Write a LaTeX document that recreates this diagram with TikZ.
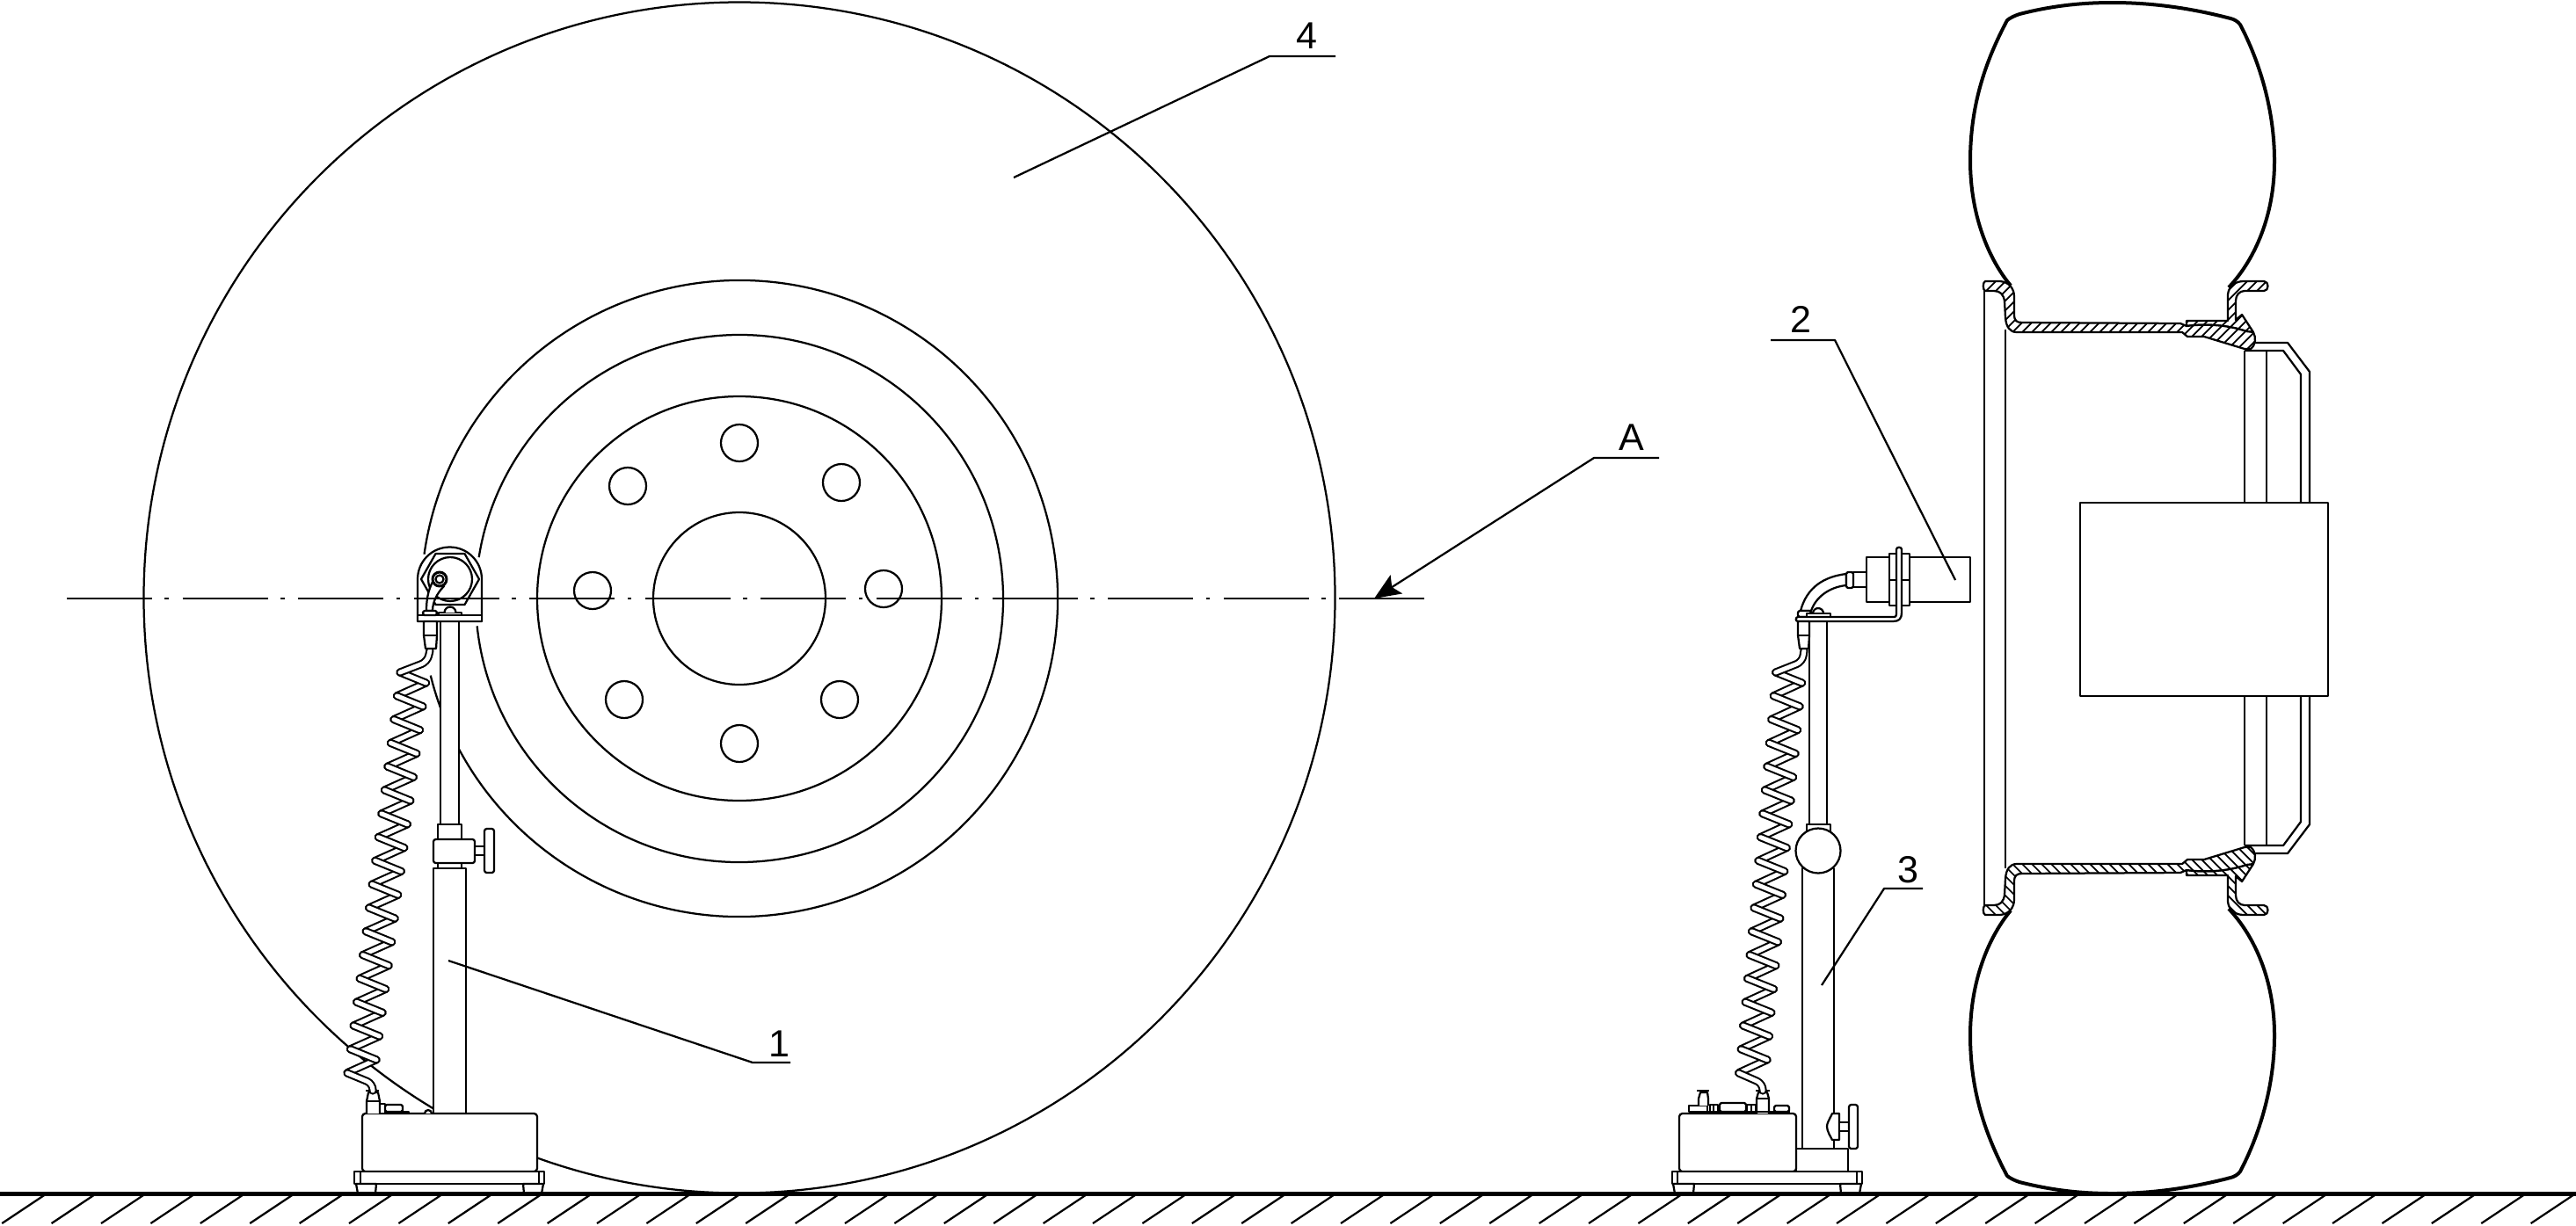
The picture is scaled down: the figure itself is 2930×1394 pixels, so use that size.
\documentclass[tikz,border=0pt]{standalone}
\usepackage{fontspec}
\setmainfont{Liberation Sans}
\usetikzlibrary{arrows.meta}

\tikzset{
	thin line/.style={draw, line width=.045cm, line join=round},
	part/.style={thin line, fill=white},
	tube/.style={line width=.042cm, double=white, double distance=.1cm, line cap=round, line join=round},
	tyre line/.style={draw, line width=.08cm, line join=round},
	lbl/.style={inner sep=0pt, font=\fontsize{24.5pt}{25pt}\selectfont},
}

% hatched section of the rim
\newcommand{\rimhatch}[1]{
	\fill[white] #1;
	\begin{scope}
		\clip #1;
		\foreach \h in {2190,2201,...,2570}
			\draw[draw, line width=.035cm] (\h,400) -- (\h+85,315);
	\end{scope}
	\draw[thin line] #1;
}

% coil of the cable: left end, right end, drift per turn
\newcommand{\coil}[3]{
	\foreach \i in {0,...,16}
		\draw[tube] ({#2+#3*\i},{777+26.8*\i}) -- ({#1+#3*(\i+1)},{765+26.8*(\i+1)});
	\foreach \i in {0,...,16}
		\draw[tube] ({#1+#3*\i},{765+26.8*\i}) -- ({#2+#3*\i},{777+26.8*\i});
}

% one half of tyre, rim and hub
\newcommand{\wheelhalf}{
	\draw[tyre line] (2287,325) .. controls (2262,295) and (2241,245) .. (2241,183) .. controls (2241,120) and (2258,70) .. (2283,23) .. controls (2287,20) and (2291,18) .. (2297,16) .. controls (2340,5) and (2375,3) .. (2403,3) .. controls (2450,3) and (2495,10) .. (2537,21) .. controls (2541,22) and (2545,24) .. (2548,28) .. controls (2570,70) and (2587,125) .. (2587,183) .. controls (2587,245) and (2565,295) .. (2535,327);
	\draw[thin line] (2565,390) -- (2602,390) -- (2627,423) -- (2627,600);
	\draw[thin line] (2553,399) -- (2597,399) -- (2617,426) -- (2617,600);
	\draw[thin line] (2553,399) -- (2553,600);
	\draw[thin line] (2578,399) -- (2578,600);
	\rimhatch{(2487,365) -- (2534,365) -- (2534,335) .. controls (2535,325) and (2543,320) .. (2552,320) -- (2575,320) .. controls (2581,320) and (2581,331) .. (2575,331) -- (2553,331) .. controls (2547,331) and (2543,336) .. (2543,342) -- (2543,364) -- (2550,358) -- (2563,378) -- (2555,377) .. controls (2535,370) and (2510,368) .. (2487,371) -- cycle}
	\rimhatch{(2258,320) -- (2275,320) .. controls (2285,321) and (2291,328) .. (2291,338) -- (2291,358) .. controls (2291,365) and (2294,367) .. (2300,367) -- (2480,368) -- (2487,371) .. controls (2510,368) and (2535,370) .. (2555,377) -- (2563,378) .. controls (2566,384) and (2566,392) .. (2560,397) -- (2553,397) -- (2507,383) -- (2488,383) -- (2482,378) -- (2294,378) .. controls (2286,378) and (2282,372) .. (2281,362) -- (2280,343) .. controls (2279,335) and (2275,331) .. (2268,331) -- (2258,331) .. controls (2255,330) and (2255,321) .. (2258,320) -- cycle}
}

\begin{document}
\begin{tikzpicture}[x=.02cm, y=-.02cm]
	\useasboundingbox (0,0) rectangle (2930,1394);

	% front view of the wheel
	\draw[thin line] (841,680) circle[radius=677.5];
	\draw[thin line] (841,681) ++(166:362) arc[start angle=166, end angle=-172, radius=362];
	\draw[thin line] (841,681) ++(174:300) arc[start angle=174, end angle=-171, radius=300];
	\draw[thin line] (841,681) circle[radius=230];
	\draw[thin line] (841,681) circle[radius=98];
	\foreach \hx/\hy in {841/504, 841/846, 674/672, 1005/670, 714/553, 957/549, 710/796, 955/796}
		\draw[thin line] (\hx,\hy) circle[radius=21];

	% left stand
	\draw[part] (501,707) rectangle (522,938);
	\draw[part] (493,988) rectangle (530,1267);
	\draw[part] (498,938) rectangle (525,955);
	\draw[part] (498,982) rectangle (525,988);
	\draw[part] (540,963) rectangle (551,973);
	\draw[part, rounded corners=1.5] (493,955) rectangle (540,982);
	\draw[part, rounded corners=1.5] (551,943) rectangle (562,993);
	\draw[part, rounded corners=2] (412,1267) rectangle (611,1333);
	\draw[part] (403,1333) rectangle (619,1347);
	\draw[thin line] (410,1333) -- (410,1347);
	\draw[thin line] (613,1333) -- (613,1347);
	\draw[part] (405,1347) -- (428,1347) -- (427,1358) -- (407,1358) -- cycle;
	\draw[part] (595,1347) -- (618,1347) -- (616,1358) -- (596,1358) -- cycle;
	\draw[part] (417,1267) -- (417,1253) -- (419,1243) -- (430,1243) -- (432,1253) -- (432,1267);
	\draw[thin line] (417,1253) -- (432,1253);
	\draw[part] (416,1241) -- (431,1241);
	\draw[part] (432,1256) rectangle (438,1267);
	\draw[part, rounded corners=1] (438,1257) rectangle (458,1265);
	\draw[part] (438,1265) rectangle (465,1267);
	\draw[part] (483,1267) arc[start angle=180, end angle=360, radius=4];

	% cable, left stand
	\coil{455}{484.5}{-3.53}
	\draw[tube, rounded corners=4] (489,740) -- (486,753) -- (455,765);
	\draw[tube, rounded corners=4] (395,1221) -- (424,1233) -- (424,1241);

	% sensor on the left stand
	\draw[part] (475,707) -- (475,659) arc[start angle=180, end angle=360, radius=36.5] -- (548,707) -- cycle;
	\draw[part] (475,700) rectangle (548,707);
	\draw[part] (479,659) -- (495.5,630) -- (528.5,630) -- (545,659) -- (528.5,688) -- (495.5,688) -- cycle;
	\draw[part] (512,659) circle[radius=25];
	\draw[part] (492,662) .. controls (487,672) and (485,682) .. (485,695) -- (492,695) .. controls (492,685) and (497,675) .. (505,667) -- cycle;
	\draw[part, line width=.06cm] (500,659) circle[radius=8];
	\draw[part] (500,659) circle[radius=4.5];
	\draw[part, rounded corners=1] (481,695) rectangle (497,700);
	\draw[part] (499,697) rectangle (525,700);
	\draw[part] (505.5,697) arc[start angle=180, end angle=360, radius=6.5];
	\draw[part] (482,707) -- (497,707) -- (497,723) -- (496,738) -- (484,738) -- (482,723) -- cycle;
	\draw[thin line] (482,723) -- (497,723);

	% side view of the wheel
	\draw[thin line] (2257,330) -- (2257,1032);
	\draw[thin line] (2281,375) -- (2281,988);
	\wheelhalf
	\begin{scope}[shift={(0,1361)}, yscale=-1]
		\wheelhalf
	\end{scope}
	\node (wheelbox) [part, rectangle, inner sep=0pt, minimum width=5.64cm, minimum height=4.4cm] at (2507,682) {};

	% right stand
	\draw[part] (2058,707) rectangle (2078,938);
	\draw[part] (2050,988) rectangle (2086,1307);
	\draw[part] (2055,938) rectangle (2082,947);
	\draw[part] (2068,968) circle[radius=25.5];
	\draw[part] (2092,1267) -- (2084,1267) .. controls (2080,1275) and (2078,1278) .. (2078,1282) .. controls (2078,1287) and (2082,1293) .. (2084,1297) -- (2092,1297) -- cycle;
	\draw[part] (2092,1277) rectangle (2103,1287);
	\draw[part, rounded corners=1.5] (2103,1257) rectangle (2113,1307);
	\draw[part] (2043,1307) rectangle (2102,1333);
	\draw[part, rounded corners=2] (1910,1267) rectangle (2043,1333);
	\draw[part] (1902,1333) rectangle (2118,1347);
	\draw[thin line] (1908,1333) -- (1908,1347);
	\draw[thin line] (2112,1333) -- (2112,1347);
	\draw[part] (1903,1347) -- (1927,1347) -- (1926,1358) -- (1905,1358) -- cycle;
	\draw[part] (2093,1347) -- (2117,1347) -- (2115,1358) -- (2094,1358) -- cycle;
	\draw[part] (1921,1258) rectangle (1942,1265);
	\draw[part] (1932,1258) -- (1932,1250) -- (1934,1243) -- (1942,1243) -- (1943,1250) -- (1943,1258);
	\draw[part] (1930,1241) -- (1944,1241);
	\draw[part] (1945,1257) rectangle (1954,1265);
	\draw[thin line] (1949,1257) -- (1949,1265);
	\draw[part, rounded corners=1] (1956,1255) rectangle (1986,1265);
	\draw[part] (1987,1257) rectangle (1997,1265);
	\draw[thin line] (1992,1257) -- (1992,1265);
	\draw[part] (1998,1267) -- (1998,1250) -- (2000,1243) -- (2010,1243) -- (2012,1250) -- (2012,1267);
	\draw[thin line] (1998,1250) -- (2012,1250);
	\draw[part] (1997,1241) -- (2013,1241);
	\draw[part, rounded corners=1] (2018,1258) rectangle (2035,1265);
	\draw[part] (1921,1265) -- (2036,1265);

	% cable, right stand
	\coil{2019.7}{2049.5}{-2.47}
	\draw[tube, rounded corners=4] (2052,740) -- (2050,753) -- (2019.7,765);
	\draw[tube, rounded corners=4] (1977.7,1221) -- (2005,1233) -- (2005,1241);

	% sensor on the right stand
	\draw[part] (2100,653) .. controls (2075,656) and (2055,668) .. (2048,695) -- (2060,695) .. controls (2065,680) and (2080,668) .. (2100,666) -- cycle;
	\draw[part] (2108,651) rectangle (2123,668);
	\draw[part, rounded corners=1] (2100,651) rectangle (2108,669);
	\draw[part] (2123,634) rectangle (2241,685);
	\draw[part] (2149,630) rectangle (2172,689);
	\draw[thin line] (2149,660) -- (2172,660);
	\draw[part, rounded corners=1] (2045,695) rectangle (2060,702);
	\draw[part] (2062,698) arc[start angle=180, end angle=360, radius=6];
	\draw[part] (2055,698) rectangle (2082,702);
	\draw[part] (2045,702) -- (2155,702) .. controls (2156,702) and (2157,701) .. (2157,697) -- (2157,625) .. controls (2157,622) and (2163,622) .. (2163,625) -- (2163,697) .. controls (2163,704) and (2160,707) .. (2153,707) -- (2045,707) .. controls (2042,707) and (2042,702) .. (2045,702) -- cycle;
	\draw[part] (2045,707) -- (2058,707) -- (2058,723) -- (2057,738) -- (2047,738) -- (2045,723) -- cycle;
	\draw[thin line] (2045,723) -- (2058,723);

	% axis
	\coordinate (axisl) at (76,681);
	\coordinate (axisr) at (1622,681);
	\draw[line width=.045cm, dash pattern=on 1.94cm off .29cm on .09cm off .312cm] (axisl) -- (axisr);

	% ground
	\draw[line width=.1cm] (0,1358) -- (2930,1358);
	\foreach \k in {-8,...,44}
		\draw[thin line] (445+56.4*\k,1360) -- (397+56.4*\k,1392);

	% labels
	\node (label1) [lbl] at (886,1188) {1};
	\node (label2) [lbl] at (2048,363) {2};
	\node (label3) [lbl] at (2170,990) {3};
	\node (label4) [lbl] at (1486,41) {4};
	\node (labelA) [lbl] at (1856,498) {A};

	% Arrows
	\coordinate (lead1a) at (510,1093);
	\coordinate (lead1b) at (856,1209);
	\coordinate (lead1c) at (899,1209);
	\coordinate (lead2a) at (2224,660);
	\coordinate (lead2b) at (2087,387);
	\coordinate (lead2c) at (2014,387);
	\coordinate (lead3a) at (2072,1121);
	\coordinate (lead3b) at (2143,1011);
	\coordinate (lead3c) at (2187,1011);
	\coordinate (lead4a) at (1153,202);
	\coordinate (lead4b) at (1444,64);
	\coordinate (lead4c) at (1519,64);
	\coordinate (leadAa) at (1887,521);
	\coordinate (leadAb) at (1813,521);
	\coordinate (leadAc) at (1563,681);
	\draw[thin line] (lead1a) -- (lead1b) -- (lead1c);
	\draw[thin line] (lead2a) -- (lead2b) -- (lead2c);
	\draw[thin line] (lead3a) -- (lead3b) -- (lead3c);
	\draw[thin line] (lead4a) -- (lead4b) -- (lead4c);
	\draw[thin line, -{Stealth[length=.6cm, width=.5cm, inset=.12cm]}] (leadAa) -- (leadAb) -- (leadAc);
\end{tikzpicture}
\end{document}
